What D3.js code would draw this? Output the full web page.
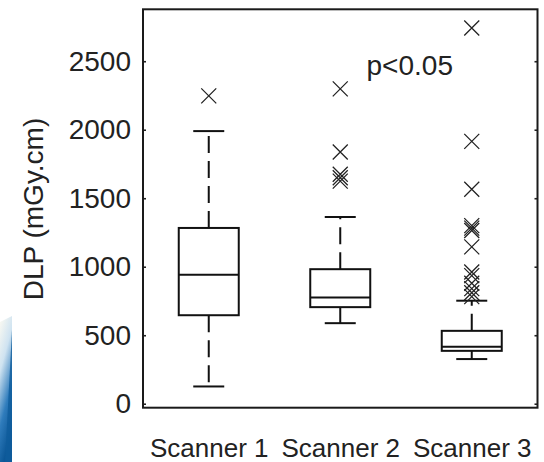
<!DOCTYPE html>
<html>
<head>
<meta charset="utf-8">
<script src="https://cdn.jsdelivr.net/npm/d3@7"></script>
<style>
  body { margin: 0; background: #fff; }
  text { font-family: "Liberation Sans", Arial, sans-serif; fill: #222; }
</style>
</head>
<body>
<div id="chartArea"></div>
<script>
// box plot data (DLP in mGy.cm)
var categories = ["Scanner 1", "Scanner 2", "Scanner 3"];
var whiskerLow = [126, 588, 326];
var quart1 = [646, 705, 386];
var medians = [942, 775, 415];
var quart3 = [1283, 982, 532];
var whiskerHigh = [1990, 1363, 752];
var outliers = [
	[2247],
	[2298, 1837, 1675, 1650, 1625],
	[2743, 1915, 1565, 1300, 1282, 1265, 1145, 962, 935, 880, 840, 810, 782]
];
var yTicks = [0, 500, 1000, 1500, 2000, 2500];
var note = "p<0.05";

(function() {
  'use strict';

var width = 544,
	height = 462,
	pLeft = 143,
	pRight = 537.5,
	pTop = 9.3,
	pBottom = 407.7,
	boxW = 60,
	capW = 31,
	xs = 7.5; // half size of the x markers

var svg = d3.select("#chartArea").append("svg")
	.attr("width", width)
	.attr("height", height);

// the blue swoosh of the slide background, bottom left
var defs = svg.append("defs");
var grad = defs.append("linearGradient")
	.attr("id", "swoosh")
	.attr("x1", 0).attr("y1", 0)
	.attr("x2", 0.3).attr("y2", 1);
grad.append("stop").attr("offset", "0").attr("stop-color", "#fdfbf2");
grad.append("stop").attr("offset", "0.35").attr("stop-color", "#cfe3f1");
grad.append("stop").attr("offset", "0.7").attr("stop-color", "#2f7cbc");
grad.append("stop").attr("offset", "1").attr("stop-color", "#0c5797");
svg.append("polygon")
	.attr("points", "0,322 12,316 12,462 0,462")
	.style("fill", "url(#swoosh)");
svg.append("polygon")
	.attr("points", "12,330 12,462 5,462")
	.style("fill", "#0f5c9c")
	.style("opacity", 0.8);

var x = d3.scalePoint()
	.domain(categories)
	.range([pLeft, pRight])
	.padding(0.5);

var y = d3.scaleLinear()
	.domain([-29, 2879])
	.range([pBottom, pTop]);

// left axis, inward ticks
var gy = svg.append("g")
	.attr("transform", "translate(" + pLeft + ",0)")
	.call(d3.axisLeft(y).tickValues(yTicks).tickFormat(d3.format("d"))
		.tickSizeInner(-3).tickSizeOuter(0).tickPadding(12));
gy.select(".domain").remove();
gy.selectAll("line").attr("stroke", "#222").attr("stroke-width", 1.6);
gy.selectAll("text").style("font-size", "28px").attr("fill", "#222");

// right axis, ticks only
var gy2 = svg.append("g")
	.attr("transform", "translate(" + pRight + ",0)")
	.call(d3.axisRight(y).tickValues(yTicks).tickSizeInner(-3).tickSizeOuter(0).tickFormat(""));
gy2.select(".domain").remove();
gy2.selectAll("line").attr("stroke", "#222").attr("stroke-width", 1.6);

// category labels
var gx = svg.append("g")
	.attr("transform", "translate(0," + pBottom + ")")
	.call(d3.axisBottom(x).tickSize(0).tickPadding(31));
gx.select(".domain").remove();
gx.selectAll("text").style("font-size", "26px").attr("fill", "#222");

// frame
svg.append("rect")
	.attr("x", pLeft)
	.attr("y", pTop)
	.attr("width", pRight - pLeft)
	.attr("height", pBottom - pTop)
	.style("fill", "none")
	.style("stroke", "#1a1a1a")
	.style("stroke-width", 2);

svg.append("text")
	.attr("transform", "translate(43," + ((pTop + pBottom) / 2 + 0.5) + ") rotate(-90)")
	.attr("text-anchor", "middle")
	.style("font-size", "28px")
	.text("DLP (mGy.cm)");

var boxes = svg.selectAll(".box")
	.data(categories)
	.enter().append("g")
	.attr("class", "box")
	.attr("transform", function(d) { return "translate(" + x(d) + ",0)"; });

// whiskers, dashed
boxes.append("line")
	.attr("y1", function(d, i) { return y(quart3[i]); })
	.attr("y2", function(d, i) { return y(whiskerHigh[i]); })
	.style("stroke", "#111").style("stroke-width", 2)
	.style("stroke-dasharray", "17,8");
boxes.append("line")
	.attr("y1", function(d, i) { return y(quart1[i]); })
	.attr("y2", function(d, i) { return y(whiskerLow[i]); })
	.style("stroke", "#111").style("stroke-width", 2)
	.style("stroke-dasharray", "17,8");

// caps
boxes.append("line")
	.attr("x1", -capW / 2).attr("x2", capW / 2)
	.attr("y1", function(d, i) { return y(whiskerHigh[i]); })
	.attr("y2", function(d, i) { return y(whiskerHigh[i]); })
	.style("stroke", "#111").style("stroke-width", 2);
boxes.append("line")
	.attr("x1", -capW / 2).attr("x2", capW / 2)
	.attr("y1", function(d, i) { return y(whiskerLow[i]); })
	.attr("y2", function(d, i) { return y(whiskerLow[i]); })
	.style("stroke", "#111").style("stroke-width", 2);

boxes.append("rect")
	.attr("x", -boxW / 2)
	.attr("width", boxW)
	.attr("y", function(d, i) { return y(quart3[i]); })
	.attr("height", function(d, i) { return y(quart1[i]) - y(quart3[i]); })
	.style("fill", "none")
	.style("stroke", "#111").style("stroke-width", 2);

boxes.append("line")
	.attr("x1", -boxW / 2).attr("x2", boxW / 2)
	.attr("y1", function(d, i) { return y(medians[i]); })
	.attr("y2", function(d, i) { return y(medians[i]); })
	.style("stroke", "#111").style("stroke-width", 2);

// outliers as x markers
boxes.selectAll(".out")
	.data(function(d, i) { return outliers[i]; })
	.enter().append("path")
	.attr("class", "out")
	.attr("d", function(v) {
		var cy = y(v);
		return "M" + (-xs) + "," + (cy - xs) + "L" + xs + "," + (cy + xs) +
			"M" + (-xs) + "," + (cy + xs) + "L" + xs + "," + (cy - xs);
	})
	.style("fill", "none")
	.style("stroke", "#222")
	.style("stroke-width", 1.3);

svg.append("text")
	.attr("x", x(categories[1]) + (x(categories[2]) - x(categories[1])) * 0.2)
	.attr("y", y(2398))
	.style("font-size", "28px")
	.text(note);

}());
</script>
</body>
</html>
